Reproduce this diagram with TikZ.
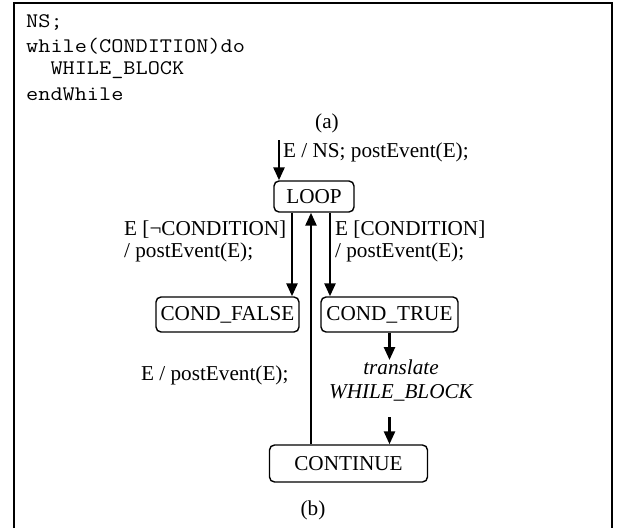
\documentclass[tikz,border=0pt]{standalone}
\usepackage{fontspec}
\setmainfont{Liberation Serif}
\usetikzlibrary{arrows.meta}
\begin{document}
\begin{tikzpicture}[x=1pt,y=-1pt,
  every node/.style={font=\fontsize{21.2}{24}\selectfont},
  state/.style={draw,line width=1.4pt,rounded corners=5pt,inner sep=0pt},
  txt/.style={inner sep=0pt,anchor=west},
  code/.style={inner sep=0pt,anchor=west,xscale=1.14,font=\fontsize{20.7}{24}\selectfont\ttfamily},
  arr/.style={line width=2.6pt,-{Triangle[width=11pt,length=13pt]}},
  frame/.style={line width=2pt}]
\useasboundingbox (0,0) rectangle (619,528);
% outer frame, open at the bottom
\draw[frame] (14,528) -- (14,3) -- (612,3) -- (612,528);

% (a) the source fragment
\node[code] (l1) at (26,22) {NS;};
\node[code] (l2) at (26,46) {while(CONDITION)do};
\node[code] (l3) at (26,70) {\ \ WHILE\_BLOCK};
\node[code] (l4) at (26,94) {endWhile};
\node (capa) at (327,123) {(a)};

% (b) the state machine
\node[state,minimum width=80pt,minimum height=31pt] (loop) at (314,196.5) {LOOP};
\node[state,minimum width=143pt,minimum height=35pt] (cfalse) at (227.5,314.5) {COND\_FALSE};
\node[state,minimum width=137pt,minimum height=35pt] (ctrue) at (389.5,314.5) {COND\_TRUE};
\node[state,minimum width=158pt,minimum height=37pt] (cont) at (348.5,463.5) {CONTINUE};

\coordinate (init) at (279,140);
\draw[arr] (init) -- (init |- loop.north);
\node[txt] (linit) at (283,152) {E / NS; postEvent(E);};

\draw[arr] ([xshift=-22pt]loop.south) -- ([xshift=-22pt]loop.south |- cfalse.north);
\node[txt] (lf1) at (124,230) {E [¬CONDITION]};
\node[txt] (lf2) at (124,252) {/ postEvent(E);};

\draw[arr] ([xshift=16pt]loop.south) -- ([xshift=16pt]loop.south |- ctrue.north);
\node[txt] (lt1) at (335,230) {E [CONDITION]};
\node[txt] (lt2) at (335,252) {/ postEvent(E);};

\draw[arr] (cont.north -| 311,0) -- (311,0 |- loop.south);
\node[txt] (lback) at (141,375) {E / postEvent(E);};

\node[inner sep=0pt,align=center,font=\fontsize{21.2}{24}\selectfont\itshape] (tw) at (401,381) {translate\\WHILE\_BLOCK};
\draw[arr] (ctrue.south) -- (ctrue.south |- 0,360);
\coordinate (tin) at (389.5,417);
\draw[arr] (tin) -- (tin |- cont.north);

\node (capb) at (313,510) {(b)};
\end{tikzpicture}
\end{document}
